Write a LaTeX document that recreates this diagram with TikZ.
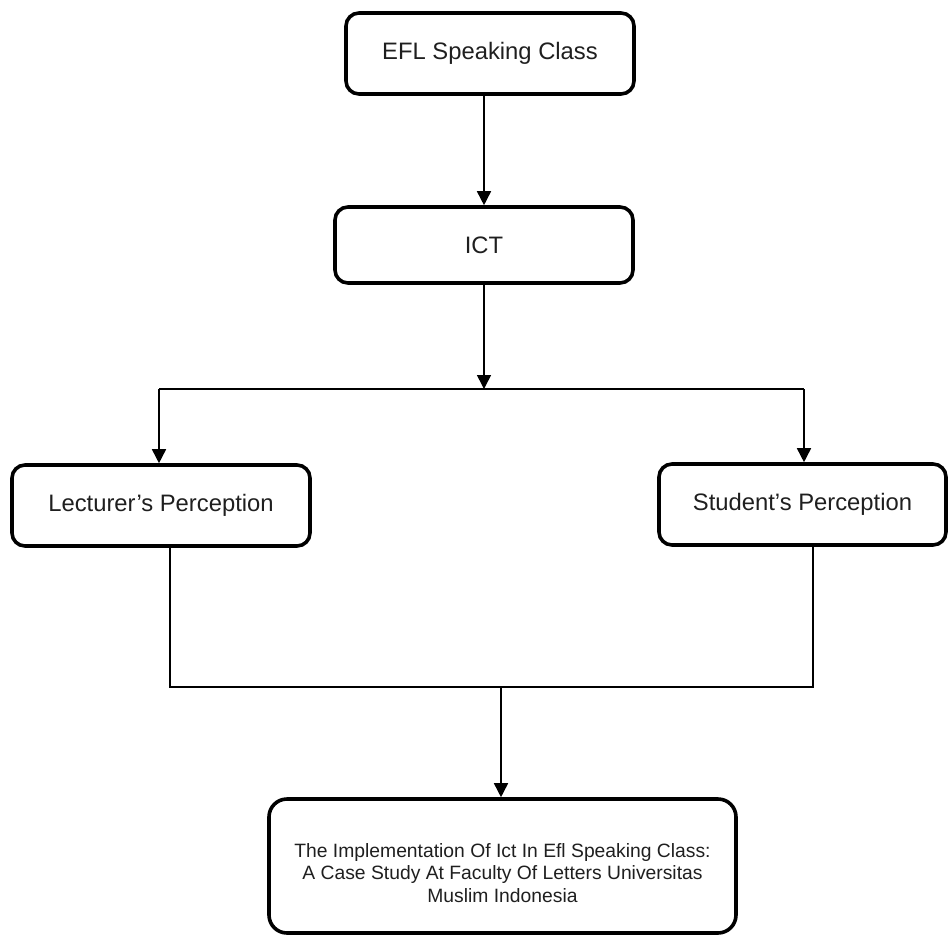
\documentclass[tikz,border=0pt]{standalone}
\usepackage{fontspec}
\setmainfont{Liberation Sans}
\usetikzlibrary{arrows.meta,calc}
\tikzset{
  box/.style={draw=black, line width=3.6pt, rounded corners=13pt, align=center,
    inner sep=0pt, text=black!88, font=\fontsize{23.8}{27}\selectfont},
  conn/.style={draw=black, line width=1.6pt},
  arr/.style={conn, -{Triangle[width=14pt,length=14pt]}}
}
\begin{document}
\begin{tikzpicture}[x=1pt,y=-1pt]
\useasboundingbox (0,0) rectangle (951,938);
\node[box, minimum width=288, minimum height=81] (efl) at (490,53.5) {EFL Speaking Class};
\node[box, minimum width=298, minimum height=76] (ict) at (484,245) {ICT};
\node[box, minimum width=298, minimum height=81] (lect) at (161,505.5) {Lecturer’s Perception};
\node[box, minimum width=287, minimum height=81] (stud) at (802.5,504.5) {Student’s Perception};
\node[box, rounded corners=18pt, minimum width=467, minimum height=134,
  font=\fontsize{19.3}{22.5}\selectfont] (final) at (502.5,866)
  {\rule{0pt}{28pt}The Implementation Of Ict In Efl Speaking Class:\\A Case Study At Faculty Of Letters Universitas\\Muslim Indonesia};
\coordinate (jl) at (159,389);
\coordinate (jr) at (804,389);
\coordinate (bl) at (170,687);
\coordinate (br) at (813,687);
\coordinate (bm) at (501,687);
\draw[arr] (efl.south -| ict.north) -- (ict.north);
\draw[arr] (ict.south) -- (ict.south |- jl);
\draw[conn] (jl) -- (jr);
\draw[arr] (jl) -- (jl |- lect.north);
\draw[arr] (jr) -- (jr |- stud.north);
\draw[conn] (bl |- lect.south) -- (bl) -- (br) -- (br |- stud.south);
\draw[arr] (bm) -- (bm |- final.north);
\end{tikzpicture}
\end{document}
